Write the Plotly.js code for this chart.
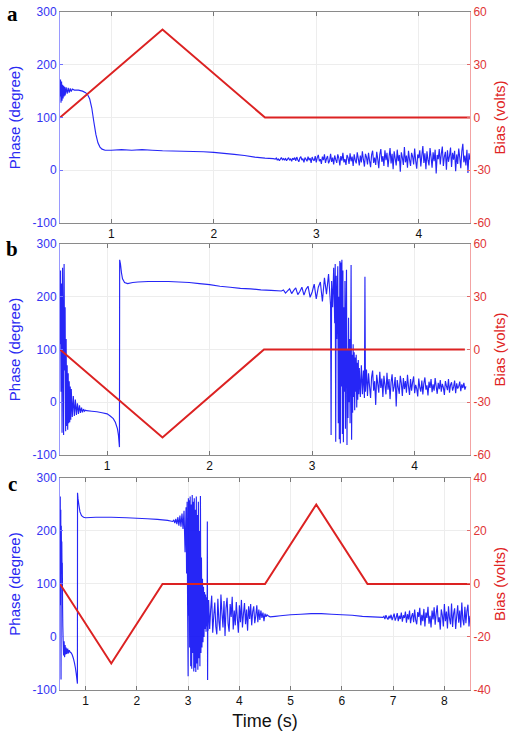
<!DOCTYPE html>
<html>
<head>
<meta charset="utf-8">
<script src="https://cdn.plot.ly/plotly-3.0.1.min.js"></script>
<style>html,body{margin:0;padding:0;background:#fff;}#chart{width:520px;height:734px;}</style>
</head>
<body>
<div id="chart"></div>
<script>
// ---------- Panel a ----------
const aTimeStart = [0.500,0.505,0.510,0.515,0.520,0.525,0.530,0.535,0.540,0.545,0.550,0.560,0.570,0.580,0.590,0.600,0.610,0.620,
  0.640,0.680,0.720,0.750,0.770,0.790,0.810,0.830,0.850,0.870,0.890,0.910,0.940,1.000,1.100,1.200,1.300,1.400,1.500,1.700,
  1.900,2.000,2.100,2.200,2.300,2.400,2.500,2.580];
const aPhaseStart = [140,172,128,168,132,162,136,160,140,158,142,157,145,156,147,155,149,154,
  152,152,150,147,143,135,118,92,68,52,44,40,38,38,39,38,39,38,37,36,
  35,34,32,30,28,25,23,22];
const aTimeNoise = [2.60,2.61,2.62,2.63,2.64,2.65,2.66,2.67,2.68,2.69,
  2.70,2.71,2.72,2.73,2.74,2.75,2.76,2.77,2.78,2.79,
  2.80,2.81,2.82,2.83,2.84,2.85,2.86,2.87,2.88,2.89,
  2.90,2.91,2.92,2.93,2.94,2.95,2.96,2.97,2.98,2.99,
  3.00,3.01,3.02,3.03,3.04,3.05,3.06,3.07,3.08,3.09,
  3.10,3.11,3.12,3.13,3.14,3.15,3.16,3.17,3.18,3.19,
  3.20,3.21,3.22,3.23,3.24,3.25,3.26,3.27,3.28,3.29,
  3.30,3.31,3.32,3.33,3.34,3.35,3.36,3.37,3.38,3.39,
  3.40,3.41,3.42,3.43,3.44,3.45,3.46,3.47,3.48,3.49,
  3.50,3.51,3.52,3.53,3.54,3.55,3.56,3.57,3.58,3.59,
  3.60,3.61,3.62,3.63,3.64,3.65,3.66,3.67,3.68,3.69,
  3.70,3.71,3.72,3.73,3.74,3.75,3.76,3.77,3.78,3.79,
  3.80,3.81,3.82,3.83,3.84,3.85,3.86,3.87,3.88,3.89,
  3.90,3.91,3.92,3.93,3.94,3.95,3.96,3.97,3.98,3.99,
  4.00,4.01,4.02,4.03,4.04,4.05,4.06,4.07,4.08,4.09,
  4.10,4.11,4.12,4.13,4.14,4.15,4.16,4.17,4.18,4.19,
  4.20,4.21,4.22,4.23,4.24,4.25,4.26,4.27,4.28,4.29,
  4.30,4.31,4.32,4.33,4.34,4.35,4.36,4.37,4.38,4.39,
  4.40,4.41,4.42,4.43,4.44,4.45,4.46,4.47,4.48,4.49,
  4.50];
const aPhaseNoise = [21,23,19,22,18,21,24,20,22,19,
  23,18,21,24,19,22,17,23,20,24,
  18,25,20,16,23,26,19,22,15,24,
  21,17,26,19,23,14,25,20,18,27,
  15,24,29,17,21,12,26,19,30,14,
  22,27,13,18,31,16,24,11,28,20,
  14,30,23,9,27,18,33,15,21,10,
  29,24,12,32,17,26,8,30,19,13,
  34,22,9,28,15,36,20,7,31,25,
  11,33,18,6,29,37,14,24,10,35,
  21,4,30,40,16,27,8,38,19,33,
  6,25,42,13,31,2,36,22,9,39,
  17,29,-3,34,24,10,44,15,28,5,
  37,20,8,33,26,11,41,18,3,30,
  23,38,7,28,46,14,32,2,36,19,
  9,42,25,5,34,17,39,-6,29,21,
  40,11,31,45,8,26,35,1,38,16,
  27,43,6,33,20,37,-2,30,12,41,
  24,4,36,50,15,28,9,39,-5,32,
  20];
const aBiasTime = [0.5,1.5,2.5,4.5];
const aBias = [0,50,0,0];

// ---------- Panel b ----------
const bTimeBurst = [0.540,0.545,0.550,0.555,0.560,0.565,0.570,0.575,0.580,0.585,0.590,0.595,0.600,0.605,0.610,0.615,0.620,0.625,0.630,0.635,
  0.640,0.645,0.650,0.660,0.670,0.680,0.690,0.700,0.710,0.720,0.730,0.740,0.750,0.760,0.770,0.780,0.790,0.800];
const bPhaseBurst = [110,250,20,225,-58,255,140,-62,262,60,180,-55,120,-45,70,-52,55,-40,40,-38,
  30,-33,25,-28,12,-26,5,-24,-2,-22,-6,-20,-10,-19,-13,-17,-15,-16];
const bTimeSmooth = [0.850,0.900,0.950,1.000,1.030,1.060,1.080,1.100,1.110,1.120,1.122,1.130,1.140,1.150,1.170,1.200,
  1.250,1.300,1.400,1.500,1.600,1.700,1.800,1.900,2.000,2.100,2.200,2.300,2.400,2.500,2.600,2.700];
const bPhaseSmooth = [-17,-18,-20,-22,-26,-31,-38,-50,-62,-85,270,262,245,234,227,225,
  227,228,229,229,229,228,227,225,223,220,218,216,215,213,212,211];
const bTimeNoise1 = [2.72,2.74,2.76,2.78,2.80,2.82,2.84,2.86,2.88,2.90,2.92,2.94,2.96,2.98,3.00,3.02,3.04,3.06,3.08,3.10,3.12,3.14,3.16,3.18];
const bPhaseNoise1 = [213,207,211,215,206,212,217,204,210,218,203,214,220,199,209,224,196,218,228,191,236,205,243,183];
const bTimeChaos = [3.185,3.190,3.200,3.210,3.220,3.225,3.230,3.235,3.240,3.250,3.255,3.260,3.265,3.270,3.275,3.280,3.285,3.290,3.295,3.300,
  3.305,3.310,3.315,3.320,3.325,3.330,3.335,3.340,3.345,3.350,3.355,3.360,3.365,3.370,3.375,3.380,3.385,3.390,3.395,3.400,
  3.405,3.410,3.415,3.420,3.425,3.430,3.435,3.440,3.445,3.450,3.455,3.460,3.470,3.480,3.490,3.500,3.510,3.515,3.520,3.530];
const bPhaseChaos = [-62,230,180,255,150,262,-75,240,120,258,-40,200,-70,268,-78,265,30,270,-60,250,
  -76,180,20,230,-50,140,251,-81,100,-30,160,0,120,-40,80,260,-71,90,-20,110,
  10,95,-15,85,20,90,-10,75,5,80,15,65,10,70,15,60,8,238,20,62];
const bTimeNoise2 = [3.54,3.55,3.56,3.57,3.58,3.59,3.60,3.61,3.62,3.63,
  3.64,3.65,3.66,3.67,3.68,3.69,3.70,3.71,3.72,3.73,
  3.74,3.75,3.76,3.77,3.78,3.79,3.80,3.81,3.82,3.83,
  3.84,3.85,3.86,3.87,3.88,3.89,3.90,3.91,3.92,3.93,
  3.94,3.95,3.96,3.97,3.98,3.99,4.00,4.01,4.02,4.03,
  4.04,4.05,4.06,4.07,4.08,4.09,4.10,4.11,4.12,4.13,
  4.14,4.15,4.16,4.17,4.18,4.19,4.20,4.21,4.22,4.23,
  4.24,4.25,4.26,4.27,4.28,4.29,4.30,4.31,4.32,4.33,
  4.34,4.35,4.36,4.37,4.38,4.39,4.40,4.41,4.42,4.43,
  4.44,4.45,4.46,4.47,4.48,4.49,4.50];
const bPhaseNoise2 = [12,55,30,8,48,60,22,40,-5,52,
  35,18,58,27,45,10,50,33,15,56,
  24,44,6,38,53,20,30,48,-8,42,
  28,16,50,36,12,46,25,40,18,52,
  30,14,44,22,38,49,17,33,26,11,
  45,28,20,41,15,36,47,24,32,13,
  39,27,44,19,34,22,46,30,16,37,
  25,42,20,35,28,14,40,31,23,44,
  18,33,38,22,29,41,17,36,26,30,
  39,21,34,27,37,24,30];
const bBiasTime = [0.54,1.54,2.53,4.49];
const bBias = [0,-50,0,0];

// ---------- Panel c ----------
const cTimeStart = [0.500,0.505,0.510,0.515,0.520,0.525,0.530,0.535,0.540,0.545,0.550,0.555,0.560,0.570,0.580,0.590,0.600,0.610,0.620,0.635,
  0.650,0.665,0.680,0.700,0.720,0.740,0.760,0.780,0.800,0.815,0.830,0.840];
const cPhaseStart = [100,265,60,240,-80,210,150,180,120,140,60,20,-2,-35,-8,-38,-15,-33,-20,-32,
  -22,-31,-25,-29,-30,-34,-40,-48,-58,-68,-80,-88];
const cTimeSmooth1 = [0.842,0.850,0.870,0.890,0.920,0.960,1.000,1.200,1.500,1.800,2.000,2.200,2.400,2.600,2.700];
const cPhaseSmooth1 = [272,262,248,236,229,226,225,226,226,225,224,223,222,220,218];
const cTimeNoise1 = [2.72,2.74,2.76,2.78,2.80,2.82,2.84,2.86,2.88,2.90,2.92,2.94,2.96];
const cPhaseNoise1 = [221,215,223,213,226,210,229,208,233,204,238,160,245];
const cTimeChaos = [2.970,2.980,2.990,3.000,3.005,3.010,3.020,3.030,3.040,3.050,3.060,3.070,3.080,3.090,3.100,3.110,3.120,3.130,3.140,3.150,
  3.160,3.170,3.180,3.190,3.200,3.210,3.220,3.230,3.240,3.250,3.260,3.270,3.280,3.290,3.300,3.310,3.320,3.330,3.340,3.350,
  3.360,3.370,3.375,3.380,3.385,3.390];
const cPhaseChaos = [120,255,60,-74,262,40,258,-20,265,-55,250,-60,268,-30,255,-65,262,-58,240,-66,
  265,-50,230,-62,255,-40,200,-55,266,-30,150,-20,110,-10,95,0,85,15,80,10,
  75,20,218,-81,70,12];
const cTimeNoise2 = [3.40,3.42,3.44,3.46,3.48,3.50,3.52,3.54,3.56,3.58,
  3.60,3.62,3.64,3.66,3.68,3.70,3.72,3.74,3.76,3.78,
  3.80,3.82,3.84,3.86,3.88,3.90,3.92,3.94,3.96,3.98,
  4.00,4.02,4.04,4.06,4.08,4.10,4.12,4.14,4.16,4.18,
  4.20,4.22,4.24,4.26,4.28,4.30,4.32,4.34,4.36,4.38,
  4.40,4.42,4.44,4.46,4.48,4.50,4.52,4.54,4.56];
const cPhaseNoise2 = [70,15,52,78,8,40,65,20,5,72,
  30,12,80,45,18,68,2,55,74,25,
  10,62,38,76,14,50,22,66,35,8,
  60,28,70,18,44,64,24,52,12,58,
  34,62,22,48,58,26,40,60,28,52,
  32,50,36,46,30,44,38,42,40];
const cTimeSmooth2 = [4.60,4.70,4.80,5.00,5.20,5.40,5.50,5.60,5.80,6.00,6.20,6.40,6.60,6.80];
const cPhaseSmooth2 = [38,39,40,42,43,44,44,44,43,42,41,39,38,37];
const cTimeNoise3 = [6.82,6.84,6.86,6.88,6.90,6.92,6.94,6.96,6.98,7.00,
  7.02,7.04,7.06,7.08,7.10,7.12,7.14,7.16,7.18,7.20,
  7.22,7.24,7.26,7.28,7.30,7.32,7.34,7.36,7.38,7.40,
  7.42,7.44,7.46,7.48,7.50,7.52,7.54,7.56,7.58,7.60,
  7.62,7.64,7.66,7.68,7.70,7.72,7.74,7.76,7.78,7.80,
  7.82,7.84,7.86,7.88,7.90,7.92,7.94,7.96,7.98,8.00,
  8.02,8.04,8.06,8.08,8.10,8.12,8.14,8.16,8.18,8.20,
  8.22,8.24,8.26,8.28,8.30,8.32,8.34,8.36,8.38,8.40,
  8.42,8.44,8.46,8.48,8.50];
const cPhaseNoise3 = [39,34,41,36,33,40,35,42,32,38,
  44,31,37,45,30,40,34,46,29,41,
  36,48,27,43,33,50,26,39,45,28,
  52,32,24,47,38,55,22,42,30,53,
  20,46,36,57,25,40,18,50,33,56,
  23,44,60,28,37,14,52,41,20,62,
  30,48,16,58,35,24,63,19,44,54,
  15,39,60,27,50,18,65,33,22,57,
  26,49,61,20,40];
const cBiasTime = [0.5,1.5,2.5,4.5,5.5,6.5,8.5];
const cBias = [0,-30,0,0,30,0,0];

// ---------- Labels ----------
const phaseTitle = 'Phase (degree)';
const biasTitle = 'Bias (volts)';
const timeTitle = 'Time (s)';
const panelLetters = ['a','b','c'];
const phaseTicks = [-100,0,100,200,300];
const biasTicksAB = [-60,-30,0,30,60];
const biasTicksC = [-40,-20,0,20,40];
const timeTicksAB = [1,2,3,4];
const timeTicksC = [1,2,3,4,5,6,7,8];

// ---------- Build ----------
const BLUE = 'rgba(0,0,245,0.85)';
const RED = '#dc2222';
const SANS = 'Liberation Sans, Arial, sans-serif';

function phaseTrace(t, y, xa, ya){
  return {x:t, y:y, xaxis:xa, yaxis:ya, type:'scatter', mode:'lines',
          line:{color:BLUE, width:1.15, simplify:false}, hoverinfo:'skip'};
}
function biasTrace(t, y, xa, ya){
  return {x:t, y:y, xaxis:xa, yaxis:ya, type:'scatter', mode:'lines',
          line:{color:RED, width:2}, hoverinfo:'skip'};
}

const data = [
  phaseTrace(aTimeStart.concat(aTimeNoise), aPhaseStart.concat(aPhaseNoise), 'x', 'y'),
  biasTrace(aBiasTime, aBias, 'x', 'y2'),
  phaseTrace(bTimeBurst.concat(bTimeSmooth, bTimeNoise1, bTimeChaos, bTimeNoise2),
             bPhaseBurst.concat(bPhaseSmooth, bPhaseNoise1, bPhaseChaos, bPhaseNoise2), 'x2', 'y3'),
  biasTrace(bBiasTime, bBias, 'x2', 'y4'),
  phaseTrace(cTimeStart.concat(cTimeSmooth1, cTimeNoise1, cTimeChaos, cTimeNoise2, cTimeSmooth2, cTimeNoise3),
             cPhaseStart.concat(cPhaseSmooth1, cPhaseNoise1, cPhaseChaos, cPhaseNoise2, cPhaseSmooth2, cPhaseNoise3), 'x3', 'y5'),
  biasTrace(cBiasTime, cBias, 'x3', 'y6')
];

function xAxis(anchor, range, ticks, withTitle){
  const ax = {anchor:anchor, domain:[0,1], range:range, tickvals:ticks, ticktext:ticks.map(String),
    ticks:'inside', ticklen:4, tickcolor:'#777', showline:true, linecolor:'#8a8a8a', linewidth:1,
    mirror:'ticks', showgrid:true, gridcolor:'#ededed', zeroline:false,
    tickfont:{family:SANS, size:12, color:'#111'}};
  if (withTitle) ax.title = {text:timeTitle, font:{family:SANS, size:18, color:'#111'}, standoff:6};
  return ax;
}
function phaseAxis(anchor, domain){
  return {anchor:anchor, domain:domain, range:[-100,300], tickvals:phaseTicks, ticktext:phaseTicks.map(String),
    ticks:'inside', ticklen:3, tickcolor:'#7070ff', showline:true, linecolor:'#9a9aff', linewidth:1,
    showgrid:true, gridcolor:'#ededed', zeroline:false,
    tickfont:{family:SANS, size:12, color:'#3434f2'},
    title:{text:phaseTitle, font:{family:SANS, size:15, color:'#2a2af2'}, standoff:8}};
}
function biasAxis(anchor, overlay, ticks){
  return {anchor:anchor, overlaying:overlay, side:'right', range:[ticks[0], ticks[ticks.length-1]],
    tickvals:ticks, ticktext:ticks.map(String),
    ticks:'inside', ticklen:3, tickcolor:'#e06a6a', showline:true, linecolor:'#f3a3a3', linewidth:1,
    showgrid:false, zeroline:false,
    tickfont:{family:SANS, size:12, color:'#e03636'},
    title:{text:biasTitle, font:{family:SANS, size:15, color:'#e02424'}, standoff:4}};
}

const layout = {
  width:520, height:734,
  margin:{l:60, r:50, t:12, b:44},
  paper_bgcolor:'#fff', plot_bgcolor:'#fff',
  showlegend:false,
  xaxis: xAxis('y', [0.5,4.5], timeTicksAB, false),
  yaxis: phaseAxis('x', [0.6888,1]),
  yaxis2: biasAxis('x', 'y', biasTicksAB),
  xaxis2: xAxis('y3', [0.54,4.54], timeTicksAB, false),
  yaxis3: phaseAxis('x2', [0.3466,0.6578]),
  yaxis4: biasAxis('x2', 'y3', biasTicksAB),
  xaxis3: xAxis('y5', [0.5,8.5], timeTicksC, true),
  yaxis5: phaseAxis('x3', [0,0.3127]),
  yaxis6: biasAxis('x3', 'y5', biasTicksC),
  annotations: [
    {text:panelLetters[0], xref:'paper', yref:'paper', x:-0.115, y:0.997, showarrow:false, xanchor:'center', yanchor:'middle',
     font:{family:'Liberation Serif, Times New Roman, serif', size:21, color:'#000', weight:'bold'}},
    {text:panelLetters[1], xref:'paper', yref:'paper', x:-0.117, y:0.650, showarrow:false, xanchor:'center', yanchor:'middle',
     font:{family:'Liberation Serif, Times New Roman, serif', size:21, color:'#000', weight:'bold'}},
    {text:panelLetters[2], xref:'paper', yref:'paper', x:-0.117, y:0.304, showarrow:false, xanchor:'center', yanchor:'middle',
     font:{family:'Liberation Serif, Times New Roman, serif', size:21, color:'#000', weight:'bold'}}
  ]
};

Plotly.newPlot('chart', data, layout, {staticPlot:true, displayModeBar:false});
</script>
</body>
</html>
